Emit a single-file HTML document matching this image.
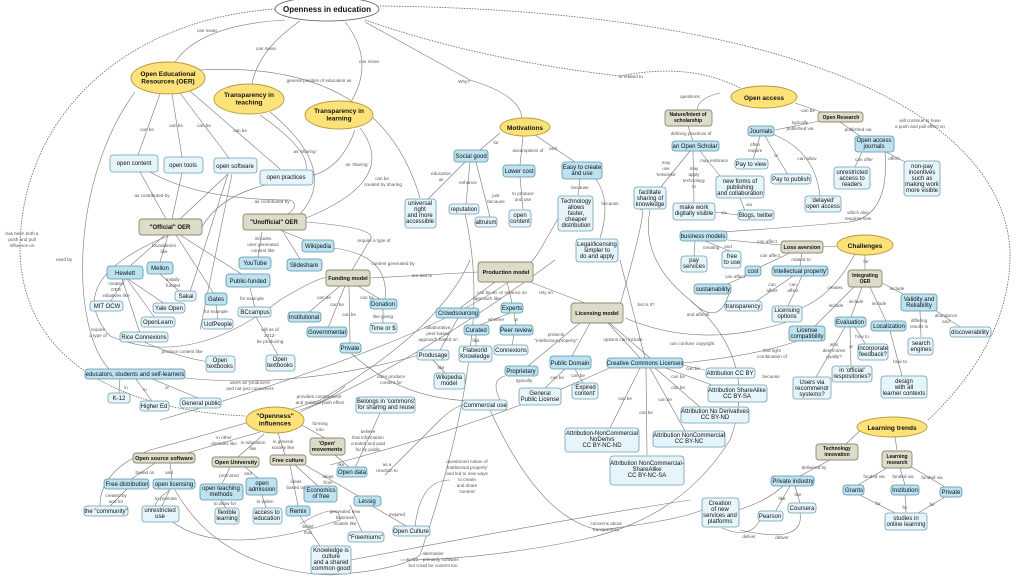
<!DOCTYPE html>
<html><head><meta charset="utf-8"><style>
html,body{margin:0;padding:0;background:#fff;width:1024px;height:582px;overflow:hidden}
svg{display:block}
text{font-family:"Liberation Sans",sans-serif;text-anchor:middle;fill:#111}
.n{font-size:6px}
.h{font-size:6.5px;font-weight:bold}
.e{font-size:4.6px;fill:#555}
.l{fill:#e6f5fb;stroke:#6e9db0;stroke-width:.8}
.b{fill:#bde2f0;stroke:#5a93a9;stroke-width:.8}
.g{fill:#dcdcc8;stroke:#8a8a76;stroke-width:.9}
.y{fill:#fde27a;stroke:#b59a3a;stroke-width:.9}
.w{fill:#fff;stroke:#555;stroke-width:.8}
path{fill:none;stroke:#777;stroke-width:.6}
.d{stroke-dasharray:1.5 1.2;stroke:#666;stroke-width:.8}
</style></head><body>
<svg width="1024" height="582" viewBox="0 0 1024 582" xmlns="http://www.w3.org/2000/svg">
<!-- edges -->
<path class="d" d="M275,9 C120,20 20,120 20,250 C22,360 120,410 245,416"/>
<path class="d" d="M380,6 C760,10 1000,100 1010,250 C1012,330 960,390 928,420"/>
<path class="d" d="M365,20 Q480,60 620,76"/>
<path class="d" d="M620,76 Q690,62 740,88"/>
<path d="M285,20 Q200,25 175,62"/>
<path d="M300,21 Q258,50 252,84"/>
<path d="M345,22 Q375,60 352,100"/>
<path d="M365,22 L470,80 Q520,95 522,118"/>
<path d="M200,70 Q380,60 420,198"/>
<path d="M160,94 L138,155"/><path d="M172,94 L182,157"/><path d="M180,93 L229,158"/><path d="M190,91 L280,169"/>
<path d="M140,172 L166,219"/><path d="M182,173 L172,219"/><path d="M228,174 L180,219"/><path d="M270,184 Q220,195 202,227"/>
<path d="M150,172 Q200,200 290,200 Q300,205 288,214"/>
<path d="M232,174 L200,330"/><path d="M228,174 L190,292"/>
<path d="M260,115 Q310,150 306,170"/><path d="M270,112 Q340,170 300,214"/>
<path d="M305,177 Q340,172 355,130"/><path d="M360,128 Q400,180 306,218"/>
<path d="M306,222 Q380,228 370,240 L352,270"/>
<path d="M333,248 Q390,255 385,299"/>
<path d="M280,230 L310,242"/><path d="M282,230 L300,259"/><path d="M262,232 L258,257"/>
<path d="M180,235 L243,275"/><path d="M165,235 L130,266"/><path d="M168,235 L160,262"/><path d="M176,235 L214,294"/>
<path d="M125,279 L110,302"/><path d="M128,279 L165,304"/><path d="M127,279 L155,318"/><path d="M122,279 L140,333"/>
<path d="M160,274 L180,292"/><path d="M216,305 L218,320"/><path d="M250,288 L255,308"/><path d="M256,317 L278,355"/>
<path d="M170,235 Q60,280 110,336 Q190,370 280,300 Q330,270 330,280"/>
<path d="M135,92 C70,180 70,330 110,370"/>
<path d="M144,342 Q180,358 210,362"/>
<path d="M370,278 L478,272"/>
<path d="M340,286 L308,313"/><path d="M345,286 L328,328"/><path d="M349,286 L350,344"/><path d="M358,286 L380,299"/>
<path d="M383,309 L383,323"/>
<path d="M350,352 Q400,400 475,401"/>
<path d="M185,378 Q300,390 430,352"/>
<path d="M120,378 L119,393"/><path d="M135,378 L152,401"/><path d="M150,378 L198,398"/>
<path d="M300,412 Q420,360 555,260"/>
<path d="M160,420 Q500,320 540,250 L560,215"/>
<path d="M300,410 Q330,400 345,386"/>
<path d="M260,432 L180,455"/><path d="M264,434 L238,457"/><path d="M278,433 L285,455"/><path d="M300,424 L325,438"/>
<path d="M335,455 L350,468"/><path d="M355,468 L380,413"/>
<path d="M155,463 L130,480"/><path d="M170,463 L172,479"/><path d="M230,467 L222,484"/><path d="M245,467 L258,478"/>
<path d="M290,465 L298,506"/><path d="M295,465 L318,486"/><path d="M305,465 L360,497"/>
<path d="M127,489 L110,506"/><path d="M170,489 L162,506"/><path d="M221,500 L226,508"/><path d="M262,495 L266,508"/>
<path d="M300,516 L320,546"/><path d="M372,506 L408,527"/><path d="M350,505 L362,532"/>
<path d="M300,524 Q340,500 340,520 Q220,560 170,520 Q140,510 170,490"/>
<path d="M100,506 Q100,470 150,450 Q260,420 320,400 Q440,330 470,260"/>
<path d="M175,490 Q220,570 330,575 Q400,570 420,555 Q460,440 470,350 Q480,280 465,214"/>
<path d="M351,560 Q560,520 690,500"/>
<path d="M490,410 Q540,520 600,530 Q680,520 702,510"/>
<path d="M415,527 Q420,480 450,480"/>
<path d="M385,475 L440,420 Q460,400 485,400"/>
<path d="M500,400 Q490,380 505,376"/>
<path d="M500,133 L480,150"/><path d="M523,136 L520,165"/><path d="M535,135 L575,162"/>
<path d="M465,162 L428,199"/><path d="M470,162 L466,204"/><path d="M476,162 L490,217"/><path d="M520,177 L523,209"/>
<path d="M580,179 L578,195"/><path d="M595,178 Q612,200 600,238"/>
<path d="M495,282 L460,308"/><path d="M507,282 L512,303"/><path d="M530,282 L585,303"/>
<path d="M510,313 L480,325"/><path d="M514,313 L516,325"/><path d="M476,335 L476,346"/><path d="M514,335 L512,345"/>
<path d="M458,318 L440,350"/><path d="M433,360 L445,373"/>
<path d="M580,323 L528,366"/><path d="M590,323 L572,356"/><path d="M608,323 L640,358"/>
<path d="M606,320 L650,358"/><path d="M620,305 Q650,200 640,210"/>
<path d="M565,369 L545,388"/><path d="M575,369 L583,383"/>
<path d="M620,260 L645,358"/>
<path d="M625,318 Q700,350 787,322"/>
<path d="M683,363 Q760,355 800,340"/>
<path d="M660,360 L705,370"/><path d="M660,366 L712,385"/><path d="M655,368 L700,407"/><path d="M650,368 L685,431"/><path d="M640,368 L610,428"/><path d="M646,368 L647,455"/>
<path d="M620,363 Q500,420 330,465"/>
<path d="M650,210 Q640,260 690,300 Q760,360 730,440 Q680,520 580,540 Q480,560 400,560"/>
<path d="M730,290 Q720,330 690,300"/>
<path d="M700,118 Q690,100 720,93"/><path d="M795,103 L830,115"/>
<path d="M688,126 L693,141"/><path d="M690,151 L660,188"/><path d="M693,151 L694,202"/><path d="M700,151 L720,176"/>
<path d="M820,121 L775,130"/><path d="M840,122 L860,136"/>
<path d="M760,136 L753,160"/><path d="M765,136 L788,175"/><path d="M772,134 Q815,150 820,196"/>
<path d="M862,152 L855,167"/><path d="M886,152 L905,162"/>
<path d="M715,212 L738,215"/><path d="M740,198 L745,211"/>
<path d="M885,152 Q890,215 850,222 Q760,230 720,232"/>
<path d="M781,245 L728,240"/><path d="M838,246 L823,247"/>
<path d="M695,241 L694,256"/><path d="M705,241 L730,251"/>
<path d="M790,253 L758,268"/><path d="M802,253 L800,266"/><path d="M748,275 L725,285"/>
<path d="M793,276 L755,302"/><path d="M802,276 L788,306"/><path d="M855,254 Q830,300 795,310"/>
<path d="M865,255 L865,270"/><path d="M855,286 L815,326"/><path d="M862,287 L851,317"/><path d="M870,287 L886,321"/><path d="M880,282 L903,294"/>
<path d="M920,311 L921,337"/><path d="M935,310 L960,327"/>
<path d="M845,327 L816,377"/><path d="M850,327 L851,366"/><path d="M855,327 L866,345"/><path d="M890,331 L902,376"/>
<path d="M870,421 L845,445"/><path d="M895,437 L897,450"/>
<path d="M830,460 L800,476"/><path d="M790,486 L775,512"/><path d="M795,486 L800,503"/>
<path d="M738,510 Q770,500 785,484"/>
<path d="M760,520 Q750,540 722,528"/><path d="M800,513 Q805,545 740,530"/>
<path d="M858,485 L890,466"/><path d="M905,485 L900,468"/><path d="M945,487 L910,466"/>
<path d="M860,495 L895,513"/><path d="M905,495 L906,512"/><path d="M945,497 L918,513"/>
<!-- nodes -->
<ellipse class="w" cx="327" cy="9" rx="52" ry="12"/><text class="h" x="327" y="12" style="font-size:8px">Openness in education</text>
<ellipse class="y" cx="168" cy="78" rx="37" ry="16"/><text class="h" x="168" y="76">Open Educational<tspan x="168" dy="7.5">Resources (OER)</tspan></text>
<ellipse class="y" cx="249" cy="99" rx="35" ry="15"/><text class="h" x="249" y="97">Transparency in<tspan x="249" dy="7.5">teaching</tspan></text>
<ellipse class="y" cx="339" cy="115" rx="34" ry="14"/><text class="h" x="339" y="113">Transparency in<tspan x="339" dy="7.5">learning</tspan></text>
<ellipse class="y" cx="525" cy="127" rx="25" ry="9"/><text class="h" x="525" y="130">Motivations</text>
<ellipse class="y" cx="764" cy="97" rx="33" ry="11"/><text class="h" x="764" y="100">Open access</text>
<ellipse class="y" cx="865" cy="245" rx="28" ry="10"/><text class="h" x="865" y="248">Challenges</text>
<ellipse class="y" cx="275" cy="420" rx="29" ry="13"/><text class="h" x="275" y="418">"Openness"<tspan x="275" dy="7.5">influences</tspan></text>
<ellipse class="y" cx="892" cy="427" rx="35" ry="10"/><text class="h" x="892" y="430">Learning trends</text>

<g>
<rect class="l" x="110" y="155" width="48" height="17" rx="3"/><text class="n" x="134" y="165">open content</text>
<rect class="l" x="164" y="157" width="39" height="16" rx="3"/><text class="n" x="183" y="167">open tools</text>
<rect class="l" x="214" y="158" width="43" height="15" rx="3"/><text class="n" x="235" y="168">open software</text>
<rect class="l" x="260" y="170" width="53" height="15" rx="3"/><text class="n" x="286" y="179">open practices</text>
<rect class="g" x="139" y="219" width="63" height="16" rx="3"/><text class="h" x="170" y="229" style="font-size:6px">"Official" OER</text>
<rect class="g" x="243" y="214" width="63" height="16" rx="3"/><text class="h" x="274" y="224" style="font-size:6px">"Unofficial" OER</text>
<rect class="b" x="302" y="240" width="32" height="12" rx="3"/><text class="n" x="318" y="248">Wikipedia</text>
<rect class="b" x="287" y="259" width="35" height="12" rx="3"/><text class="n" x="304" y="267">Slideshare</text>
<rect class="b" x="239" y="257" width="32" height="12" rx="3"/><text class="n" x="255" y="265">YouTube</text>
<rect class="b" x="226" y="274" width="44" height="13" rx="3"/><text class="n" x="248" y="283">Public-funded</text>
<rect class="b" x="107" y="266" width="36" height="13" rx="3"/><text class="n" x="125" y="275">Hewlett</text>
<rect class="b" x="147" y="262" width="26" height="12" rx="3"/><text class="n" x="160" y="270">Mellon</text>
<rect class="g" x="326" y="270" width="44" height="16" rx="3"/><text class="h" x="348" y="280" style="font-size:5.5px">Funding model</text>
<rect class="g" x="478" y="262" width="55" height="20" rx="3"/><text class="h" x="506" y="274" style="font-size:5.5px">Production model</text>
<rect class="b" x="454" y="150" width="34" height="12" rx="3"/><text class="n" x="471" y="158">Social good</text>
<rect class="b" x="503" y="165" width="32" height="12" rx="3"/><text class="n" x="519" y="173">Lower cost</text>
<rect class="b" x="562" y="162" width="40" height="17" rx="3"/><text class="n" x="582" y="169">Easy to create<tspan x="582" dy="6">and use</tspan></text>
<rect class="l" x="405" y="199" width="31" height="29" rx="3"/><text class="n" x="420" y="205">universal<tspan x="420" dy="6">right</tspan><tspan x="420" dy="6">and more</tspan><tspan x="420" dy="6">accessible</tspan></text>
<rect class="l" x="449" y="204" width="30" height="10" rx="3"/><text class="n" x="464" y="211">reputation</text>
<rect class="l" x="475" y="217" width="22" height="10" rx="3"/><text class="n" x="486" y="224">altruism</text>
<rect class="l" x="509" y="210" width="22" height="17" rx="3"/><text class="n" x="520" y="217">open<tspan x="520" dy="6">content</tspan></text>
<rect class="l" x="558" y="196" width="35" height="35" rx="3"/><text class="n" x="576" y="203">Technology<tspan x="576" dy="6">allows</tspan><tspan x="576" dy="6">faster,</tspan><tspan x="576" dy="6">cheaper</tspan><tspan x="576" dy="6">distribution</tspan></text>
<rect class="l" x="576" y="239" width="42" height="23" rx="3"/><text class="n" x="597" y="246">Legal/licensing<tspan x="597" dy="6">simpler to</tspan><tspan x="597" dy="6">do and apply</tspan></text>
<rect class="b" x="436" y="308" width="43" height="10" rx="3"/><text class="n" x="458" y="315">Crowdsourcing</text>
<rect class="b" x="501" y="303" width="22" height="10" rx="3"/><text class="n" x="512" y="310">Experts</text>
<rect class="b" x="464" y="325" width="25" height="10" rx="3"/><text class="n" x="476" y="332">Curated</text>
<rect class="b" x="500" y="325" width="33" height="10" rx="3"/><text class="n" x="516" y="332">Peer review</text>
<rect class="l" x="459" y="346" width="33" height="16" rx="3"/><text class="n" x="475" y="352">Flatworld<tspan x="475" dy="6">Knowledge</tspan></text>
<rect class="l" x="494" y="345" width="34" height="10" rx="3"/><text class="n" x="511" y="352">Connexions</text>
<rect class="g" x="571" y="303" width="52" height="20" rx="3"/><text class="h" x="597" y="315" style="font-size:5.5px">Licensing model</text>
<rect class="b" x="370" y="299" width="27" height="10" rx="3"/><text class="n" x="383" y="306">Donation</text>
<rect class="l" x="370" y="323" width="27" height="10" rx="3"/><text class="n" x="383" y="330">Time or $</text>
<rect class="b" x="288" y="312" width="33" height="10" rx="3"/><text class="n" x="304" y="319">Institutional</text>
<rect class="b" x="307" y="327" width="40" height="10" rx="3"/><text class="n" x="327" y="334">Governmental</text>
<rect class="b" x="340" y="343" width="21" height="10" rx="3"/><text class="n" x="350" y="350">Private</text>
<rect class="l" x="417" y="350" width="32" height="10" rx="3"/><text class="n" x="433" y="357">Produsage</text>
<rect class="l" x="434" y="373" width="31" height="16" rx="3"/><text class="n" x="449" y="379">Wikipedia<tspan x="449" dy="6">model</tspan></text>
<rect class="l" x="462" y="400" width="45" height="10" rx="3"/><text class="n" x="485" y="407">Commercial use</text>
<rect class="l" x="356" y="397" width="59" height="16" rx="3"/><text class="n" x="386" y="403">Belongs in 'commons'<tspan x="386" dy="6">for sharing and reuse</tspan></text>
<rect class="l" x="175" y="291" width="21" height="10" rx="3"/><text class="n" x="186" y="298">Sakai</text>
<rect class="b" x="205" y="293" width="22" height="12" rx="3"/><text class="n" x="216" y="301">Gates</text>
<rect class="l" x="90" y="301" width="33" height="10" rx="3"/><text class="n" x="107" y="308">MIT OCW</text>
<rect class="l" x="153" y="303" width="32" height="10" rx="3"/><text class="n" x="169" y="310">Yale Open</text>
<rect class="l" x="141" y="317" width="34" height="10" rx="3"/><text class="n" x="158" y="324">OpenLearn</text>
<rect class="l" x="120" y="332" width="48" height="10" rx="3"/><text class="n" x="144" y="339">Rice Connexions</text>
<rect class="l" x="202" y="319" width="31" height="10" rx="3"/><text class="n" x="218" y="326">UofPeople</text>
<rect class="l" x="238" y="307" width="33" height="10" rx="3"/><text class="n" x="255" y="314">BCcampus</text>
<rect class="l" x="206" y="356" width="29" height="16" rx="3"/><text class="n" x="220" y="362">Open<tspan x="220" dy="6">textbooks</tspan></text>
<rect class="l" x="266" y="355" width="29" height="16" rx="3"/><text class="n" x="280" y="361">Open<tspan x="280" dy="6">textbooks</tspan></text>
<rect class="b" x="85" y="369" width="100" height="10" rx="3"/><text class="n" x="135" y="376">educators, students and self-learners</text>
<rect class="l" x="108" y="393" width="22" height="10" rx="3"/><text class="n" x="119" y="400">K-12</text>
<rect class="l" x="140" y="401" width="29" height="10" rx="3"/><text class="n" x="154" y="408">Higher Ed</text>
<rect class="l" x="180" y="398" width="41" height="10" rx="3"/><text class="n" x="201" y="405">General public</text>
<rect class="g" x="310" y="438" width="35" height="17" rx="3"/><text class="h" x="327" y="445" style="font-size:5.5px">'Open'<tspan x="327" dy="6">movements</tspan></text>
<rect class="g" x="133" y="453" width="62" height="10" rx="3"/><text class="h" x="164" y="460" style="font-size:5.5px">Open source software</text>
<rect class="g" x="212" y="457" width="47" height="10" rx="3"/><text class="h" x="236" y="464" style="font-size:5.5px">Open University</text>
<rect class="g" x="270" y="455" width="36" height="10" rx="3"/><text class="h" x="288" y="462" style="font-size:5.5px">Free culture</text>
<rect class="b" x="104" y="479" width="45" height="10" rx="3"/><text class="n" x="127" y="486">Free distribution</text>
<rect class="b" x="153" y="479" width="42" height="10" rx="3"/><text class="n" x="174" y="486">open licensing</text>
<rect class="b" x="200" y="484" width="43" height="16" rx="3"/><text class="n" x="221" y="490">open teaching<tspan x="221" dy="6">methods</tspan></text>
<rect class="b" x="246" y="478" width="31" height="17" rx="3"/><text class="n" x="262" y="485">open<tspan x="262" dy="6">admission</tspan></text>
<rect class="b" x="304" y="486" width="33" height="16" rx="3"/><text class="n" x="321" y="492">Economics<tspan x="321" dy="6">of free</tspan></text>
<rect class="b" x="354" y="496" width="27" height="10" rx="3"/><text class="n" x="367" y="503">Lessig</text>
<rect class="b" x="337" y="467" width="30" height="10" rx="3"/><text class="n" x="352" y="474">Open data</text>
<rect class="l" x="84" y="506" width="44" height="10" rx="3"/><text class="n" x="106" y="513">the "community"</text>
<rect class="l" x="142" y="506" width="37" height="16" rx="3"/><text class="n" x="160" y="512">unrestricted<tspan x="160" dy="6">use</tspan></text>
<rect class="l" x="215" y="508" width="24" height="16" rx="3"/><text class="n" x="227" y="514">flexible<tspan x="227" dy="6">learning</tspan></text>
<rect class="l" x="253" y="508" width="29" height="16" rx="3"/><text class="n" x="267" y="514">access to<tspan x="267" dy="6">education</tspan></text>
<rect class="b" x="286" y="506" width="24" height="10" rx="3"/><text class="n" x="298" y="513">Remix</text>
<rect class="l" x="348" y="532" width="36" height="10" rx="3"/><text class="n" x="366" y="539">"Freemiums"</text>
<rect class="l" x="393" y="526" width="37" height="10" rx="3"/><text class="n" x="411" y="533">Open Culture</text>
<rect class="l" x="311" y="546" width="40" height="28" rx="3"/><text class="n" x="331" y="552">Knowledge is<tspan x="331" dy="6">culture</tspan><tspan x="331" dy="6">and a shared</tspan><tspan x="331" dy="6">common good</tspan></text>

<rect class="g" x="665" y="110" width="47" height="16" rx="3"/><text class="h" x="688" y="116" style="font-size:5px">Nature/Intent of<tspan x="688" dy="6">scholarship</tspan></text>
<rect class="g" x="818" y="112" width="45" height="10" rx="3"/><text class="h" x="841" y="119" style="font-size:5px">Open Research</text>
<rect class="b" x="748" y="126" width="26" height="10" rx="3"/><text class="n" x="761" y="133">Journals</text>
<rect class="b" x="672" y="141" width="47" height="10" rx="3"/><text class="n" x="695" y="148">an Open Scholar</text>
<rect class="b" x="855" y="136" width="39" height="16" rx="3"/><text class="n" x="874" y="142">Open access<tspan x="874" dy="6">journals</tspan></text>
<rect class="l" x="735" y="159" width="33" height="10" rx="3"/><text class="n" x="751" y="166">Pay to view</text>
<rect class="l" x="771" y="174" width="40" height="10" rx="3"/><text class="n" x="791" y="181">Pay to  publish</text>
<rect class="l" x="716" y="176" width="48" height="22" rx="3"/><text class="n" x="740" y="183">new forms of<tspan x="740" dy="6">publishing</tspan><tspan x="740" dy="6">and collaboration</tspan></text>
<rect class="l" x="634" y="187" width="32" height="22" rx="3"/><text class="n" x="650" y="194">facilitate<tspan x="650" dy="6">sharing of</tspan><tspan x="650" dy="6">knowledge</tspan></text>
<rect class="l" x="834" y="167" width="36" height="22" rx="3"/><text class="n" x="852" y="174">unrestricted<tspan x="852" dy="6">access to</tspan><tspan x="852" dy="6">readers</tspan></text>
<rect class="l" x="904" y="161" width="36" height="35" rx="3"/><text class="n" x="922" y="168">non-pay<tspan x="922" dy="6">incentives</tspan><tspan x="922" dy="6">such as</tspan><tspan x="922" dy="6">making work</tspan><tspan x="922" dy="6">more visible</tspan></text>
<rect class="l" x="805" y="196" width="36" height="16" rx="3"/><text class="n" x="823" y="202">'delayed'<tspan x="823" dy="6">open access</tspan></text>
<rect class="l" x="673" y="203" width="42" height="17" rx="3"/><text class="n" x="694" y="209">make work<tspan x="694" dy="6">digitally visible</tspan></text>
<rect class="l" x="738" y="210" width="36" height="10" rx="3"/><text class="n" x="756" y="217">Blogs, twitter</text>
<rect class="b" x="680" y="231" width="47" height="10" rx="3"/><text class="n" x="703" y="238">business models</text>
<rect class="g" x="781" y="241" width="42" height="12" rx="3"/><text class="h" x="802" y="249" style="font-size:5.5px">Loss aversion</text>
<rect class="l" x="681" y="256" width="26" height="16" rx="3"/><text class="n" x="694" y="262">pay<tspan x="694" dy="6">services</tspan></text>
<rect class="l" x="722" y="251" width="19" height="17" rx="3"/><text class="n" x="732" y="258">free<tspan x="732" dy="6">to use</tspan></text>
<rect class="b" x="745" y="266" width="16" height="10" rx="3"/><text class="n" x="753" y="273">cost</text>
<rect class="b" x="772" y="266" width="56" height="10" rx="3"/><text class="n" x="800" y="273">'intellectual property'</text>
<rect class="g" x="848" y="270" width="34" height="17" rx="3"/><text class="h" x="865" y="277" style="font-size:5px">Integrating<tspan x="865" dy="6">OER</tspan></text>
<rect class="b" x="694" y="284" width="37" height="10" rx="3"/><text class="n" x="713" y="291">sustainability</text>
<rect class="l" x="725" y="301" width="37" height="10" rx="3"/><text class="n" x="743" y="308">transparency</text>
<rect class="l" x="772" y="306" width="30" height="16" rx="3"/><text class="n" x="787" y="312">Licensing<tspan x="787" dy="6">options</tspan></text>
<rect class="b" x="789" y="326" width="36" height="15" rx="3"/><text class="n" x="807" y="332">License<tspan x="807" dy="6">compatibility</tspan></text>
<rect class="b" x="835" y="317" width="31" height="10" rx="3"/><text class="n" x="850" y="324">Evaluation</text>
<rect class="b" x="871" y="321" width="35" height="10" rx="3"/><text class="n" x="889" y="328">Localization</text>
<rect class="b" x="901" y="294" width="36" height="17" rx="3"/><text class="n" x="919" y="301">Validity and<tspan x="919" dy="6">Reliability</tspan></text>
<rect class="l" x="950" y="327" width="41" height="10" rx="3"/><text class="n" x="970" y="334">discoverability</text>
<rect class="l" x="908" y="338" width="25" height="17" rx="3"/><text class="n" x="921" y="345">search<tspan x="921" dy="6">engines</tspan></text>
<rect class="l" x="858" y="344" width="30" height="16" rx="3"/><text class="n" x="873" y="350">incorporate<tspan x="873" dy="6">feedback?</tspan></text>
<rect class="l" x="832" y="366" width="40" height="16" rx="3"/><text class="n" x="852" y="372">in 'official'<tspan x="852" dy="6">respositories?</tspan></text>
<rect class="l" x="793" y="377" width="38" height="22" rx="3"/><text class="n" x="812" y="384">Users via<tspan x="812" dy="6">recommendr</tspan><tspan x="812" dy="6">systems?</tspan></text>
<rect class="l" x="881" y="376" width="46" height="22" rx="3"/><text class="n" x="904" y="383">design<tspan x="904" dy="6">with all</tspan><tspan x="904" dy="6">learner contexts</tspan></text>
<rect class="b" x="607" y="358" width="76" height="10" rx="3"/><text class="n" x="645" y="365">Creative Commons Licenses</text>
<rect class="b" x="550" y="356" width="41" height="13" rx="3"/><text class="n" x="570" y="365">Public Domain</text>
<rect class="b" x="505" y="366" width="33" height="10" rx="3"/><text class="n" x="521" y="373">Proprietary</text>
<rect class="l" x="519" y="388" width="42" height="17" rx="3"/><text class="n" x="540" y="395">General<tspan x="540" dy="6">Public License</tspan></text>
<rect class="l" x="572" y="383" width="26" height="16" rx="3"/><text class="n" x="585" y="389">'Expired<tspan x="585" dy="6">content'</tspan></text>
<rect class="l" x="706" y="368" width="49" height="10" rx="3"/><text class="n" x="730" y="375">Attribution CC BY</text>
<rect class="l" x="708" y="385" width="59" height="17" rx="3"/><text class="n" x="737" y="392">Attribution ShareAlike<tspan x="737" dy="6">CC BY-SA</tspan></text>
<rect class="l" x="681" y="407" width="68" height="16" rx="3"/><text class="n" x="715" y="413">Attribution No Derivatives<tspan x="715" dy="6">CC BY-ND</tspan></text>
<rect class="l" x="653" y="431" width="72" height="16" rx="3"/><text class="n" x="689" y="437">Attribution NonCommercial<tspan x="689" dy="6">CC BY-NC</tspan></text>
<rect class="l" x="565" y="428" width="74" height="24" rx="3"/><text class="n" x="602" y="435">Attribution-NonCommercial<tspan x="602" dy="6">NoDerivs</tspan><tspan x="602" dy="6">CC BY-NC-ND</tspan></text>
<rect class="l" x="610" y="456" width="74" height="29" rx="3"/><text class="n" x="647" y="465">Attribution NonCommercial-<tspan x="647" dy="6">ShareAlike</tspan><tspan x="647" dy="6">CC BY-NC-SA</tspan></text>
<rect class="g" x="816" y="444" width="42" height="16" rx="3"/><text class="h" x="837" y="450" style="font-size:5px">Technology<tspan x="837" dy="6">innovation</tspan></text>
<rect class="g" x="882" y="451" width="30" height="17" rx="3"/><text class="h" x="897" y="458" style="font-size:5px">Learning<tspan x="897" dy="6">research</tspan></text>
<rect class="b" x="771" y="476" width="43" height="10" rx="3"/><text class="n" x="793" y="483">Private industry</text>
<rect class="b" x="843" y="485" width="21" height="10" rx="3"/><text class="n" x="854" y="492">Grants</text>
<rect class="b" x="891" y="485" width="28" height="10" rx="3"/><text class="n" x="905" y="492">Institution</text>
<rect class="b" x="940" y="487" width="22" height="10" rx="3"/><text class="n" x="951" y="494">Private</text>
<rect class="l" x="702" y="498" width="37" height="29" rx="3"/><text class="n" x="720" y="505">Creation<tspan x="720" dy="6">of new</tspan><tspan x="720" dy="6">services and</tspan><tspan x="720" dy="6">platforms</tspan></text>
<rect class="l" x="758" y="511" width="25" height="10" rx="3"/><text class="n" x="770" y="518">Pearson</text>
<rect class="l" x="788" y="503" width="28" height="10" rx="3"/><text class="n" x="802" y="510">Coursera</text>
<rect class="l" x="885" y="513" width="42" height="17" rx="3"/><text class="n" x="906" y="520">studies in<tspan x="906" dy="6">online learning</tspan></text>
</g>
<!-- edge labels -->
<g class="e">
<text class="e" x="207" y="32">can mean</text><text class="e" x="266" y="50">can mean</text><text class="e" x="369" y="63">can mean</text><text class="e" x="464" y="83">Why?</text>
<text class="e" x="319" y="82">general position of education as</text><text class="e" x="631" y="78">is related to</text>
<text class="e" x="147" y="131">can be</text><text class="e" x="176" y="127">can be</text><text class="e" x="204" y="127">can be</text><text class="e" x="240" y="132">can be</text>
<text class="e" x="152" y="197">as contributed by</text><text class="e" x="272" y="203">as contributed by</text>
<text class="e" x="305" y="153">as 'sharing'</text><text class="e" x="357" y="166">as 'sharing'</text>
<text class="e" x="382" y="180">can be</text><text class="e" x="383" y="186">created by sharing</text>
<text class="e" x="22" y="235">has been both a</text><text class="e" x="22" y="241">push and pull</text><text class="e" x="22" y="247">influence on</text>
<text class="e" x="64" y="261">used by</text>
<text class="e" x="164" y="247">foundations</text><text class="e" x="164" y="253">like</text>
<text class="e" x="263" y="240">includes</text><text class="e" x="263" y="246">user-generated</text><text class="e" x="263" y="252">content like</text>
<text class="e" x="374" y="242">require a type of</text><text class="e" x="393" y="265">content generated by</text><text class="e" x="422" y="277">are tied to</text>
<text class="e" x="116" y="285">created</text><text class="e" x="116" y="291">OER</text><text class="e" x="116" y="297">initiatives like</text>
<text class="e" x="173" y="281">initially</text><text class="e" x="173" y="287">funded</text>
<text class="e" x="252" y="300">for example</text><text class="e" x="216" y="313">for example</text>
<text class="e" x="270" y="331">will as of</text><text class="e" x="270" y="337">2012-</text><text class="e" x="270" y="343">be producing</text>
<text class="e" x="98" y="331">require</text><text class="e" x="98" y="337">a type of</text>
<text class="e" x="182" y="353">produce content like</text>
<text class="e" x="250" y="384">users as 'producers'</text><text class="e" x="250" y="390">and not just consumers</text>
<text class="e" x="126" y="389">in</text><text class="e" x="145" y="391">in</text><text class="e" x="167" y="389">or</text>
<text class="e" x="324" y="299">can be</text><text class="e" x="337" y="306">can be</text><text class="e" x="349" y="316">can be</text><text class="e" x="367" y="299">can be</text><text class="e" x="383" y="318">like giving</text>
<text class="e" x="391" y="378">often produce</text><text class="e" x="391" y="384">content for</text>
<text class="e" x="319" y="398">provides comparisons</text><text class="e" x="320" y="404">and residual push effect</text>
<text class="e" x="320" y="425">forming</text><text class="e" x="320" y="431">into</text>
<text class="e" x="224" y="439">in other</text><text class="e" x="224" y="445">domains like</text>
<text class="e" x="253" y="444">in education</text><text class="e" x="253" y="450">like</text>
<text class="e" x="283" y="443">in general</text><text class="e" x="283" y="449">society like</text>
<text class="e" x="368" y="433">believe</text><text class="e" x="368" y="439">that information</text><text class="e" x="368" y="445">created and paid</text><text class="e" x="368" y="451">for by public</text>
<text class="e" x="341" y="466">like</text><text class="e" x="387" y="466">as a</text><text class="e" x="387" y="472">reaction to</text>
<text class="e" x="145" y="474">based on</text><text class="e" x="169" y="474">and</text><text class="e" x="229" y="477">promoted</text><text class="e" x="248" y="475">and</text>
<text class="e" x="328" y="478">ideas</text><text class="e" x="328" y="484">from</text><text class="e" x="296" y="483">ideas</text><text class="e" x="296" y="489">based on</text>
<text class="e" x="116" y="497">created by</text><text class="e" x="116" y="503">and for</text><text class="e" x="166" y="500">to promote</text>
<text class="e" x="225" y="505">to allow for</text><text class="e" x="265" y="503">to widen</text>
<text class="e" x="345" y="513">generated new</text><text class="e" x="345" y="519">business</text><text class="e" x="345" y="525">models like</text>
<text class="e" x="397" y="516">inspired</text><text class="e" x="308" y="528">belief</text><text class="e" x="308" y="534">that</text>
<text class="e" x="467" y="463">questioned notion of</text><text class="e" x="467" y="469">'intellectual property'</text><text class="e" x="467" y="475">and led to new ways</text><text class="e" x="467" y="481">to create</text><text class="e" x="467" y="487">and share</text><text class="e" x="467" y="493">'content'</text>
<text class="e" x="433" y="555">alternative</text><text class="e" x="433" y="561">to CC - primarily software</text><text class="e" x="433" y="567">but could be content too</text>
<text class="e" x="606" y="525">concerns about</text><text class="e" x="606" y="531">transparency</text>
<text class="e" x="496" y="144">for</text><text class="e" x="528" y="152">assumptions of</text><text class="e" x="553" y="150">and</text>
<text class="e" x="441" y="175">education</text><text class="e" x="441" y="181">as</text><text class="e" x="468" y="184">enhance</text>
<text class="e" x="496" y="197">just</text><text class="e" x="496" y="203">because</text>
<text class="e" x="523" y="195">to produce</text><text class="e" x="523" y="201">and use</text>
<text class="e" x="580" y="189">because</text><text class="e" x="610" y="205">because</text>
<text class="e" x="487" y="294">can be an</text><text class="e" x="487" y="300">approach like</text><text class="e" x="513" y="294">or reliance on</text><text class="e" x="546" y="294">rely on</text>
<text class="e" x="496" y="321">whether</text><text class="e" x="516" y="321">or</text><text class="e" x="476" y="342">like</text>
<text class="e" x="438" y="329">collaborative,</text><text class="e" x="438" y="335">peer-based</text><text class="e" x="438" y="341">approach based on</text><text class="e" x="441" y="369">like</text>
<text class="e" x="556" y="336">protects</text><text class="e" x="556" y="342">"intellectual property"</text>
<text class="e" x="623" y="341">options can include</text><text class="e" x="646" y="306">but is it?</text>
<text class="e" x="692" y="345">can confuse copyright</text>
<text class="e" x="524" y="382">typically</text><text class="e" x="557" y="379">can be</text><text class="e" x="578" y="377">can be</text>
<text class="e" x="693" y="370">can be</text><text class="e" x="678" y="378">can be</text><text class="e" x="678" y="389">can be</text><text class="e" x="625" y="400">can be</text><text class="e" x="665" y="401">can be</text><text class="e" x="646" y="414">can be</text>
<text class="e" x="772" y="352">find right</text><text class="e" x="772" y="358">combination of</text>
<text class="e" x="771" y="378">because</text>
<text class="e" x="690" y="98">questions</text><text class="e" x="691" y="135">defining practices of</text>
<text class="e" x="808" y="112">can be</text><text class="e" x="800" y="124">typically</text><text class="e" x="800" y="130">published via</text><text class="e" x="858" y="131">published via</text>
<text class="e" x="920" y="122">will continue to have</text><text class="e" x="920" y="128">a push and pull effect on</text>
<text class="e" x="666" y="164">may</text><text class="e" x="666" y="170">use</text><text class="e" x="666" y="176">'networks'</text>
<text class="e" x="694" y="170">may</text><text class="e" x="694" y="176">apply</text><text class="e" x="694" y="182">technology</text><text class="e" x="694" y="188">to</text>
<text class="e" x="714" y="162">may embrace</text><text class="e" x="755" y="146">often</text><text class="e" x="755" y="152">require</text><text class="e" x="776" y="157">or</text><text class="e" x="807" y="160">can allow</text>
<text class="e" x="864" y="161">can offer</text><text class="e" x="894" y="160">offers</text>
<text class="e" x="724" y="214">via</text><text class="e" x="749" y="206">via</text>
<text class="e" x="858" y="214">which also</text><text class="e" x="858" y="220">requires new</text>
<text class="e" x="767" y="243">can affect</text><text class="e" x="711" y="249">creating</text><text class="e" x="728" y="248">and</text>
<text class="e" x="770" y="257">can affect</text><text class="e" x="801" y="261">related to</text><text class="e" x="735" y="278">can affect</text>
<text class="e" x="772" y="286">can</text><text class="e" x="772" y="292">affect</text><text class="e" x="793" y="286">can</text><text class="e" x="793" y="292">affect</text>
<text class="e" x="835" y="289">creates</text><text class="e" x="866" y="263">for</text>
<text class="e" x="836" y="307">include</text><text class="e" x="856" y="303">include</text><text class="e" x="879" y="305">include</text><text class="e" x="897" y="290">include</text>
<text class="e" x="698" y="316">and affects</text>
<text class="e" x="919" y="322">differing</text><text class="e" x="919" y="328">results in</text><text class="e" x="946" y="317">abundance</text><text class="e" x="946" y="323">and</text>
<text class="e" x="834" y="346">who</text><text class="e" x="834" y="352">determines</text><text class="e" x="834" y="358">quality?</text>
<text class="e" x="851" y="348">or</text><text class="e" x="862" y="338">how to</text><text class="e" x="900" y="363">how to</text>
<text class="e" x="814" y="469">delivered by</text><text class="e" x="782" y="500">like</text><text class="e" x="798" y="496">like</text>
<text class="e" x="749" y="538">deliver</text><text class="e" x="782" y="539">deliver</text>
<text class="e" x="874" y="478">funded via</text><text class="e" x="903" y="478">funded via</text><text class="e" x="932" y="479">funded via</text>
<text class="e" x="878" y="505">for</text><text class="e" x="905" y="509">for</text><text class="e" x="932" y="506">for</text>
</g>
</svg>
</body></html>
